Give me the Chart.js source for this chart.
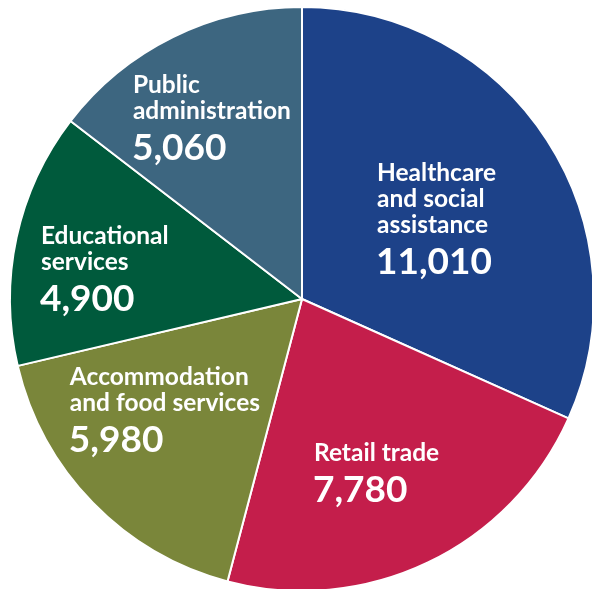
<!DOCTYPE html>
<html>
<head>
<meta charset="utf-8">
<script src="https://cdn.jsdelivr.net/npm/chart.js@4/dist/chart.umd.min.js"></script>
<style>
  html, body { margin: 0; padding: 0; background: #ffffff; overflow: hidden; }
  #wrap { width: 592px; height: 589px; overflow: hidden; }
</style>
</head>
<body>
<div id="wrap"><canvas id="grafico" width="600" height="600"></canvas></div>
<script>
// --- Datos ---
const sectores = [
    ['Healthcare', 'and social', 'assistance'],
    ['Retail trade'],
    ['Accommodation', 'and food services'],
    ['Educational', 'services'],
    ['Public', 'administration']
];
const empleos  = [11010, 7780, 5980, 4900, 5060];
const colores  = ['#1d4289', '#c41e4b', '#7a863a', '#005a3c', '#3d6680'];

// Posición del texto relativa al centro, en fracciones del radio (x izq., baseline 1a línea)
const posEtiquetas = [
    [0.257, -0.404],
    [0.041, 0.556],
    [-0.795, 0.295],
    [-0.894, -0.188],
    [-0.579, -0.705]
];

const fmt = n => n.toLocaleString('en-US');

// Plugin sencillo para dibujar etiquetas dentro de cada porción
const etiquetasPlugin = {
    id: 'etiquetas',
    afterDatasetsDraw(chart) {
        const ctx  = chart.ctx;
        const arc0 = chart.getDatasetMeta(0).data[0];
        const cx = arc0.x, cy = arc0.y, r = arc0.outerRadius;
        ctx.save();
        ctx.fillStyle = '#ffffff';
        ctx.textAlign = 'left';
        ctx.textBaseline = 'alphabetic';
        sectores.forEach((lineas, i) => {
            const x = cx + posEtiquetas[i][0] * r;
            let y = cy + posEtiquetas[i][1] * r;
            ctx.font = 'bold 24.5px Lato';
            lineas.forEach((l, j) => {
                if (j > 0) y += 26;
                ctx.fillText(l, x, y);
            });
            y += 41;
            ctx.font = 'bold 37px Lato';
            ctx.fillText(fmt(empleos[i]), x - 1, y);
        });
        ctx.restore();
    }
};

new Chart(document.getElementById('grafico'), {
    type: 'pie',
    data: {
        labels: sectores.map(s => s.join(' ')),
        datasets: [{
            data: empleos,
            backgroundColor: colores,
            borderColor: '#ffffff',
            borderWidth: 2
        }]
    },
    options: {
        responsive: false,
        animation: false,
        layout: { padding: { left: 9, right: 5, top: 6, bottom: 8 } },
        plugins: {
            legend: { display: false },
            tooltip: { enabled: false }
        }
    },
    plugins: [etiquetasPlugin]
});
</script>
</body>
</html>
